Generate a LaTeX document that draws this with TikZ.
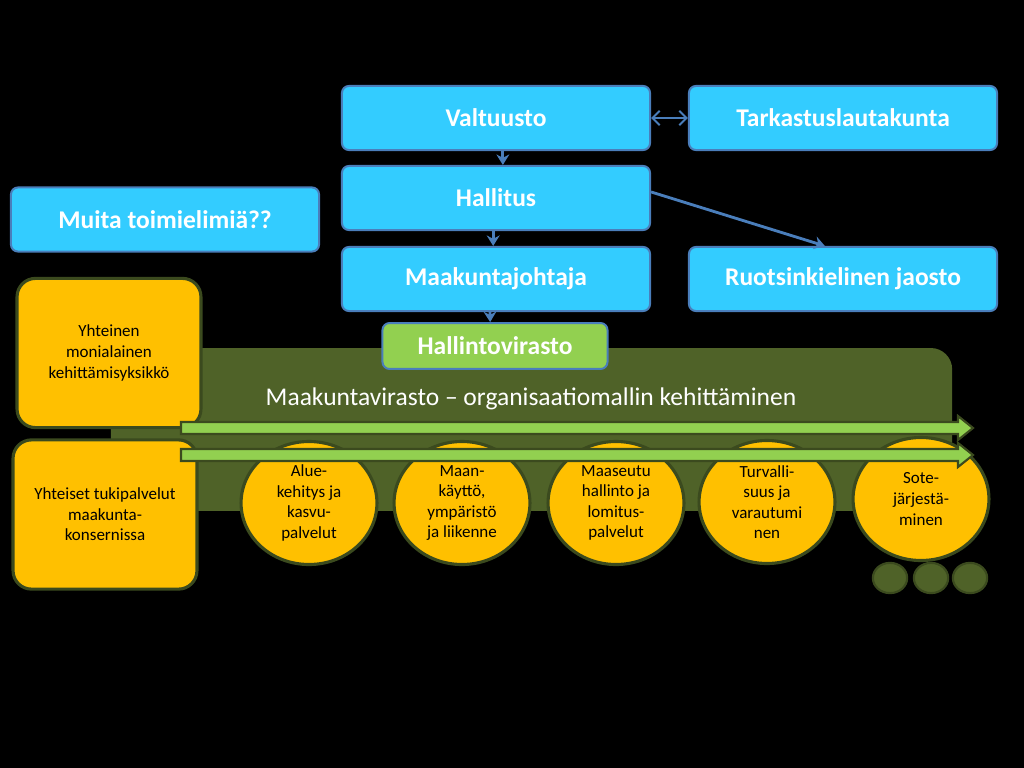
\documentclass[tikz,border=0pt]{standalone}
\usepackage{fontspec}
\setmainfont{Carlito}
\usetikzlibrary{arrows.meta,positioning,shapes.geometric}
\definecolor{boxblue}{HTML}{33CCFF}
\definecolor{edgeblue}{HTML}{4A7EBB}
\definecolor{leafgreen}{HTML}{92D050}
\definecolor{virastoolive}{HTML}{4F6228}
\definecolor{darkolive}{HTML}{3B4A1E}
\definecolor{gold}{HTML}{FFC000}

\begin{document}
\begin{tikzpicture}[x=0.0248cm, y=-0.0248cm,
    organ/.style={draw=edgeblue, line width=1.4pt, fill=boxblue, rounded corners=5pt,
        minimum width=7.64cm, minimum height=1.59cm, text=white,
        font=\fontsize{18}{22}\selectfont\bfseries},
    unit/.style={draw=darkolive, line width=2.2pt, fill=gold, rounded corners=13pt,
        minimum width=4.56cm, minimum height=3.70cm, align=center,
        font=\fontsize{12}{14.5}\selectfont},
    dept/.style={ellipse, draw=darkolive, line width=2.2pt, fill=gold, inner sep=0pt,
        minimum width=3.37cm, minimum height=3.05cm, align=center,
        font=\fontsize{12}{14.5}\selectfont},
    dot/.style={ellipse, draw=darkolive, line width=1.5pt, fill=virastoolive,
        minimum width=0.85cm, minimum height=0.75cm},
    link/.style={-{Stealth[length=2.6mm,width=3.2mm]}, line width=2pt, edgeblue},
    flow/.style={draw=darkolive, line width=1.5pt, fill=leafgreen}
]
\fill[black] (0,0) rectangle (1024,768);

% maakuntavirasto
\node[fill=virastoolive, rounded corners=15pt, inner sep=0pt,
      minimum width=20.86cm, minimum height=4.04cm] (virasto) at (531.5,429.5) {};
\node[text=white, font=\fontsize{18}{22}\selectfont] (virastotxt) at (531,399)
    {Maakuntavirasto -- organisaatiomallin kehittäminen};

\node[unit] (kehys) at (109,353) {Yhteinen\\monialainen\\kehittämisyksikkö};
\node[unit] (tuki) at (105,514.5) {Yhteiset tukipalvelut\\maakunta-\\konsernissa};

\node[dept] (alue) at (309,503) {Alue-\\kehitys ja\\kasvu-\\palvelut};
\node[dept] (maank) at (462,503) {Maan-\\käyttö,\\ympäristö\\ja liikenne};
\node[dept] (maaseutu) at (616,503) {Maaseutu\\hallinto ja\\lomitus-\\palvelut};
\node[dept] (turva) at (767,502) {Turvalli-\\suus ja\\varautumi\\nen};
\node[dept] (sote) at (921,499) {Sote-\\järjestä-\\minen};

\node[dot] (dot1) at (890,578) {};
\node[dot] (dot2) at (931,578) {};
\node[dot] (dot3) at (970,578) {};

\foreach \y in {428,455}
    \draw[flow] (181,\y-6) -- (958,\y-6) -- (958,\y-12) -- (973,\y)
        -- (958,\y+12) -- (958,\y+6) -- (181,\y+6) -- cycle;

% toimielimet
\node[organ] (valtuusto) at (496,118) {Valtuusto};
\node[organ] (tarkastus) at (843,118) {Tarkastuslautakunta};
\node[organ] (hallitus) at (496,198) {Hallitus};
\node[organ] (johtaja) at (496,279) {Maakuntajohtaja};
\node[organ] (ruotsi) at (843,279) {Ruotsinkielinen jaosto};
\node[organ] (muita) at (165,219.5) {Muita toimielimiä??};
\node[organ, fill=leafgreen, minimum width=5.58cm, minimum height=1.14cm]
    (hallinto) at (495,346) {Hallintovirasto};

\draw[{Straight Barb[length=1.8mm]}-{Straight Barb[length=1.8mm]}, line width=1.4pt, edgeblue]
    (valtuusto) -- (tarkastus);
\draw[link] ([xshift=0.17cm]valtuusto.south) -- ([xshift=0.17cm]hallitus.north);
\draw[link] ([xshift=-0.07cm]hallitus.south) -- ([xshift=-0.07cm]johtaja.north);
\draw[link] ([xshift=-0.15cm]johtaja.south) -- ([xshift=-0.12cm]hallinto.north);
\draw[link] ([yshift=0.15cm]hallitus.east) -- ([xshift=-0.45cm]ruotsi.north);
\end{tikzpicture}
\end{document}
